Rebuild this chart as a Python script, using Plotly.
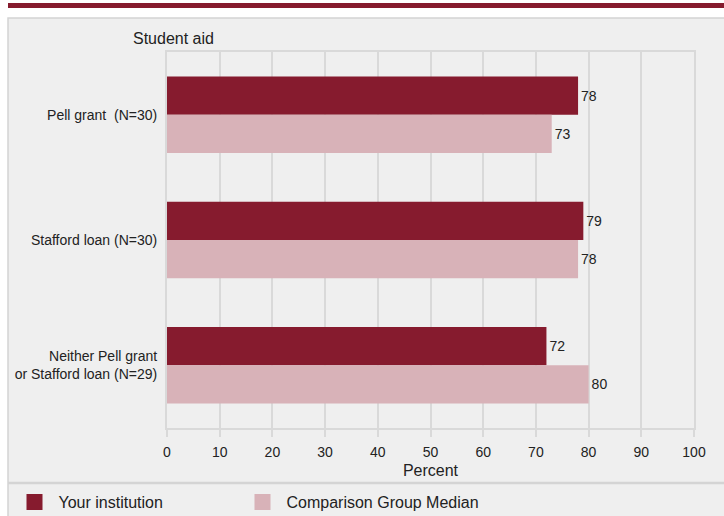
import plotly.graph_objects as go

categories = ["Pell grant  (N=30)", "Stafford loan (N=30)", "Neither Pell grant<br>or Stafford loan (N=29)"]
your_institution = [78, 79, 72]
comparison_median = [73, 78, 80]
x_ticks = [0, 10, 20, 30, 40, 50, 60, 70, 80, 90, 100]

DARK = "#861b2e"
LIGHT = "#d8b2b8"
PANEL = "#efefef"
GRID = "#d9d9d9"
FONT = "Liberation Sans, Arial, sans-serif"

W, H = 724, 516
L, R, T, B = 167, 30, 52, 88
pw, ph = W - L - R, H - T - B

def px(xp):
    return (xp - L) / pw

def py(yp):
    return (H - B - yp) / ph

fig = go.Figure()
fig.add_trace(go.Bar(y=categories, x=your_institution, orientation="h", name="Your institution",
                     marker=dict(color=DARK, line=dict(width=0)), text=your_institution,
                     textposition="outside", textfont=dict(size=14, color="#222222"),
                     cliponaxis=False, showlegend=False))
fig.add_trace(go.Bar(y=categories, x=comparison_median, orientation="h", name="Comparison Group Median",
                     marker=dict(color=LIGHT, line=dict(width=0)), text=comparison_median,
                     textposition="outside", textfont=dict(size=14, color="#222222"),
                     cliponaxis=False, showlegend=False))
# legend entries with larger square swatches
for name, color, lg in [("Your institution", DARK, "legend"), ("Comparison Group Median", LIGHT, "legend2")]:
    fig.add_trace(go.Scatter(x=[None], y=[None], mode="markers", name=name, legend=lg,
                             marker=dict(symbol="square", size=17, color=color, line=dict(width=0)),
                             showlegend=True, hoverinfo="skip"))

shapes = [
    dict(type="rect", xref="paper", yref="paper", x0=px(8), x1=px(728), y0=py(18), y1=py(520),
         fillcolor=PANEL, line=dict(color="#d4d4d4", width=1.5), layer="below"),
    dict(type="rect", xref="paper", yref="paper", x0=px(8), x1=px(728), y0=py(3), y1=py(8),
         fillcolor="#861b2e", line=dict(width=0), layer="below"),
    dict(type="line", xref="paper", yref="paper", x0=px(8), x1=px(728), y0=py(483), y1=py(483),
         line=dict(color="#d4d4d4", width=2.5), layer="below"),
]

legend_common = dict(orientation="h", xanchor="left", yanchor="middle", itemwidth=38,
                     font=dict(size=16, color="#222222"), bgcolor="rgba(0,0,0,0)", itemsizing="trace")

fig.update_layout(
    width=W, height=H,
    margin=dict(l=L, r=R, t=T, b=B, autoexpand=False),
    paper_bgcolor="white", plot_bgcolor=PANEL,
    barmode="group", bargap=0.39, bargroupgap=0,
    font=dict(family=FONT, size=14, color="#222222"),
    shapes=shapes,
    showlegend=True,
    legend=dict(x=px(10.5), y=py(502), **legend_common),
    legend2=dict(x=px(238.5), y=py(502), **legend_common),
    annotations=[dict(text="Student aid", xref="paper", yref="paper", x=px(131), y=py(38),
                      xanchor="left", yanchor="middle", showarrow=False, font=dict(size=16, color="#222222"))],
    xaxis=dict(range=[0, 100], tickvals=x_ticks, showgrid=True, gridcolor=GRID, gridwidth=2,
               showline=True, linecolor=GRID, linewidth=2, mirror=True,
               ticks="outside", ticklen=7, tickwidth=2, tickcolor=GRID, ticklabelstandoff=3,
               tickfont=dict(size=14), zeroline=False,
               title=dict(text="Percent", font=dict(size=16), standoff=6)),
    yaxis=dict(autorange="reversed", showgrid=False, showline=True, linecolor=GRID, linewidth=2,
               mirror=True, ticks="", ticklabelstandoff=5, tickfont=dict(size=14)),
)

fig.write_html("out.html", config={"displayModeBar": False},
               post_script="document.body.style.margin='0px';")
